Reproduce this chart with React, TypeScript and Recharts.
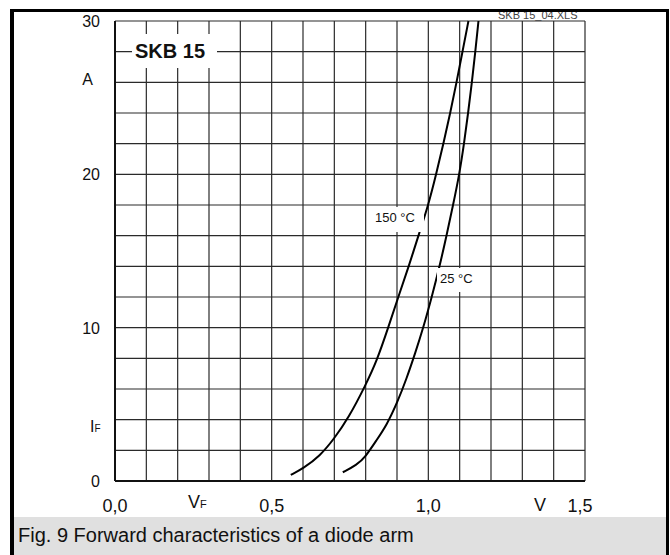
import { LineChart, Line, XAxis, YAxis, CartesianGrid } from "recharts";

// forward voltage (V) / forward current (A)
const v150 = [0.561, 0.601, 0.654, 0.699, 0.745, 0.8, 0.835, 0.872, 0.904, 0.936, 0.973, 1.0, 1.025, 1.048, 1.07, 1.09, 1.109, 1.128];
const i150 = [0.4, 0.83, 1.63, 2.75, 4.1, 6.26, 7.8, 10.0, 12.0, 13.9, 16.3, 18.0, 20.0, 22.0, 24.0, 26.0, 28.0, 30.0];

const v25 = [0.727, 0.771, 0.8, 0.835, 0.867, 0.9, 0.931, 0.958, 0.984, 1.011, 1.036, 1.058, 1.079, 1.099, 1.114, 1.127, 1.139, 1.15, 1.16];
const i25 = [0.57, 1.04, 1.59, 2.67, 3.65, 5.07, 6.7, 8.33, 10.0, 12.0, 14.0, 16.0, 18.0, 20.0, 22.0, 24.0, 26.0, 28.0, 30.0];

const xTicks = [0, 0.1, 0.2, 0.3, 0.4, 0.5, 0.6, 0.7, 0.8, 0.9, 1.0, 1.1, 1.2, 1.3, 1.4, 1.5];
const yTicks = [0, 2, 4, 6, 8, 10, 12, 14, 16, 18, 20, 22, 24, 26, 28, 30];
const xLabels = ["0,0", "0,5", "1,0", "1,5"];
const yLabels = ["0", "10", "20", "30"];

const FONT = '"Liberation Sans", Arial, sans-serif';

const data150 = v150.map((v, k) => ({ v, i: i150[k] }));
const data25 = v25.map((v, k) => ({ v, i: i25[k] }));

// the last printed label sits a little left of its grid line
const xNudge: Record<string, number> = { "0,0": 0, "0,5": 0, "1,0": 0, "1,5": -5 };

const XTick = (props: any) => {
  const { x, y, payload } = props;
  const idx = Math.round(payload.value * 2);
  if (Math.abs(payload.value * 2 - idx) > 0.001) return null;
  const label = xLabels[idx];
  return (
    <text x={x + xNudge[label]} y={y + 31} textAnchor="middle" fontFamily={FONT} fontSize={18} fill="#111">
      {label}
    </text>
  );
};

const YTick = (props: any) => {
  const { x, y, payload } = props;
  if (payload.value % 10 !== 0) return null;
  return (
    <text x={x - 15} y={y + 6} textAnchor="end" fontFamily={FONT} fontSize={16} fill="#111">
      {yLabels[payload.value / 10]}
    </text>
  );
};

const abs = (left: number, top: number, extra: any = {}) => ({
  position: "absolute" as const,
  left,
  top,
  fontFamily: FONT,
  color: "#111",
  whiteSpace: "nowrap" as const,
  ...extra,
});

export default function App() {
  return (
    <div style={{ position: "absolute", left: 0, top: 0, width: 670, height: 555, background: "#fff", overflow: "hidden" }}>
      <LineChart
        width={670}
        height={555}
        margin={{ top: 21, right: 85, left: 75, bottom: 44 }}
        style={{ position: "absolute", left: 0, top: 0 }}
      >
        <CartesianGrid stroke="#2a2a2a" strokeWidth={1.2} />
        <XAxis
          type="number"
          dataKey="v"
          domain={[0, 1.5]}
          ticks={xTicks}
          interval={0}
          height={30}
          tickSize={0}
          tickMargin={0}
          axisLine={{ stroke: "#111", strokeWidth: 2 }}
          tickLine={false}
          tick={<XTick />}
        />
        <YAxis
          type="number"
          domain={[0, 30]}
          ticks={yTicks}
          interval={0}
          width={40}
          tickSize={0}
          tickMargin={0}
          axisLine={{ stroke: "#111", strokeWidth: 2 }}
          tickLine={false}
          tick={<YTick />}
        />
        <Line data={data150} dataKey="i" type="basis" stroke="#000" strokeWidth={2} dot={false} isAnimationActive={false} />
        <Line data={data25} dataKey="i" type="basis" stroke="#000" strokeWidth={2} dot={false} isAnimationActive={false} />
      </LineChart>

      {/* file name, partly hidden by the frame */}
      <div style={abs(498, 9, { fontSize: 11, lineHeight: "12px", color: "#444" })}>SKB 15_04.XLS</div>

      {/* labels with white backgrounds breaking the grid */}
      <div style={abs(132, 34, { width: 85, height: 34, background: "#fff", boxSizing: "border-box", paddingLeft: 3, paddingTop: 7, fontSize: 20, lineHeight: "20px", fontWeight: "bold" })}>
        SKB 15
      </div>
      <div style={abs(372, 207, { width: 52, height: 25, background: "#fff", boxSizing: "border-box", paddingLeft: 3, paddingTop: 3, fontSize: 13, lineHeight: "15px" })}>
        150 °C
      </div>
      <div style={abs(437, 268, { width: 41, height: 24, background: "#fff", boxSizing: "border-box", paddingLeft: 3, paddingTop: 3, fontSize: 13, lineHeight: "15px" })}>
        25 °C
      </div>

      {/* axis units */}
      <div style={abs(82, 71, { width: 11, textAlign: "right", fontSize: 16, lineHeight: "18px" })}>A</div>
      <div style={abs(90, 418, { fontSize: 16, lineHeight: "18px" })}>
        I<span style={{ fontSize: 10 }}>F</span>
      </div>
      <div style={abs(188, 492, { fontSize: 18, lineHeight: "20px" })}>
        V<span style={{ fontSize: 11 }}>F</span>
      </div>
      <div style={abs(534, 495, { fontSize: 18, lineHeight: "20px" })}>V</div>

      {/* caption bar */}
      <div style={abs(14, 517, { width: 652, height: 38, background: "#e0e0e0", boxSizing: "border-box", paddingLeft: 4, paddingTop: 7, fontSize: 20, lineHeight: "22px" })}>
        Fig. 9 Forward characteristics of a diode arm
      </div>

      {/* outer frame */}
      <div
        style={{
          position: "absolute",
          left: 10,
          top: 9,
          width: 659,
          height: 546,
          boxSizing: "border-box",
          borderTop: "3px solid #000",
          borderLeft: "4px solid #000",
          borderRight: "3px solid #000",
        }}
      />
    </div>
  );
}
